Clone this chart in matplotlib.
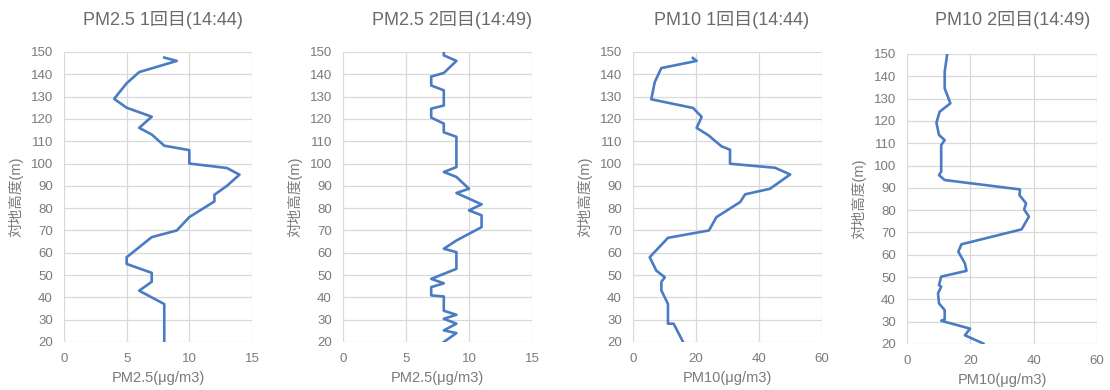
import matplotlib.pyplot as plt

plt.rcParams['font.family'] = ['Liberation Sans', 'Noto Sans CJK JP', 'DejaVu Sans']

# heights (m) and concentrations
h_pm25_1 = [147.5, 146, 141, 136, 129, 125, 121, 116, 113, 108, 106, 100, 98, 95,
            90, 86, 83, 76, 70, 67, 58, 55, 51, 47, 43, 37, 20]
v_pm25_1 = [8, 9, 6, 5, 4, 5, 7, 6, 7, 8, 10, 10, 13, 14,
            13, 12, 12, 10, 9, 7, 5, 5, 7, 7, 6, 8, 8]

h_pm25_2 = [150, 148.5, 146, 140.6, 139, 135, 132.8, 126, 124.6, 120.6, 117.9, 114, 112,
            98.4, 96.2, 94, 88.7, 86.8, 81.7, 79, 76.8, 71.5, 65.5, 61.8, 60.3, 52.8,
            48.3, 46.3, 44.6, 40.9, 40.4, 34, 32.2, 30.4, 28.2, 25.2, 24, 20]
v_pm25_2 = [8, 8, 9, 8, 7, 7, 8, 8, 7, 7, 8, 8, 9,
            9, 8, 9, 10, 9, 11, 10, 11, 11, 9, 8, 9, 9,
            7, 8, 7, 7, 8, 8, 9, 8, 9, 8, 9, 8]

h_pm10_1 = [147.3, 146, 142.8, 136.5, 128.8, 124.9, 120.9, 116, 112.6, 107.7, 106.2, 99.9,
            98.1, 95.1, 88.7, 86.2, 82.7, 76, 70, 66.7, 58, 52, 49, 46.9, 43.1, 37.1,
            28.2, 28.2, 20]
v_pm10_1 = [19, 20.2, 9, 6.9, 5.8, 19.1, 21.8, 20.2, 24, 28.1, 30.8, 30.8,
            45.1, 49.9, 43.5, 35.6, 34, 26.5, 24.1, 11.1, 5.3, 7.4, 10.1, 9, 9, 11.1,
            11.1, 12.9, 15.9]

h_pm10_2 = [150, 142, 134.6, 127.9, 124.1, 119.2, 113.7, 111.4, 109.2, 97.2, 95.7, 93.5,
            89.3, 86.8, 83, 80.3, 77.1, 71.4, 64.7, 61.4, 56.1, 52.8, 50.2, 46.4, 45.7,
            42.7, 38.2, 35.2, 31, 30.4, 26.9, 23.9, 20.2]
v_pm10_2 = [12.7, 11.9, 11.9, 13.7, 10.3, 9.3, 10.1, 11.9, 10.8, 10.8, 10.1, 11.9,
            35.7, 35.5, 37.6, 37, 38.5, 36.2, 17.2, 16.2, 18.3, 18.8, 10.8, 10.1, 10.8,
            9.8, 10.1, 11.9, 11.9, 10.8, 19.9, 18.3, 24.1]

titles = ['PM2.5 1回目(14:44)', 'PM2.5 2回目(14:49)', 'PM10 1回目(14:44)', 'PM10 2回目(14:49)']
xlabels = ['PM2.5(μg/m3)', 'PM2.5(μg/m3)', 'PM10(μg/m3)', 'PM10(μg/m3)']
xmaxes = [15, 15, 60, 60]
xsteps = [5, 5, 20, 20]
ylabel = '対地高度(m)'

series = [(v_pm25_1, h_pm25_1), (v_pm25_2, h_pm25_2),
          (v_pm10_1, h_pm10_1), (v_pm10_2, h_pm10_2)]

W, H = 1110, 390
fig = plt.figure(figsize=(W / 100, H / 100), dpi=100)

# axes boxes in pixels: left, right, top, bottom
boxes = [(64, 252, 52, 342), (343, 532, 52, 342), (633, 822, 52, 342), (907, 1097, 54, 344)]
title_x = [163, 452, 732, 1013]

text_col = '#7a7a7a'
grid_col = '#d9d9d9'
line_col = '#4a7cc4'

for i, (x, y) in enumerate(series):
    l, r, t, b = boxes[i]
    ax = fig.add_axes([l / W, 1 - b / H, (r - l) / W, (b - t) / H])
    ax.plot(x, y, color=line_col, lw=1.9)
    ax.set_xlim(0, xmaxes[i])
    ax.set_ylim(20, 150)
    ax.set_xticks(range(0, xmaxes[i] + 1, xsteps[i]))
    ax.set_yticks(range(20, 151, 10))
    ax.grid(True, color=grid_col, lw=0.9)
    ax.set_axisbelow(True)
    for s in ax.spines.values():
        s.set_visible(False)
    ax.tick_params(length=0, labelsize=9.5, colors=text_col)
    ax.tick_params(axis='x', pad=8)
    ax.tick_params(axis='y', pad=8)
    ax.set_xlabel(xlabels[i], fontsize=10.5, color=text_col, labelpad=4)
    ax.set_ylabel(ylabel, fontsize=10.5, color=text_col, labelpad=5)
    fig.text(title_x[i] / W, 1 - 20 / H, titles[i], fontsize=13, color='#6b6b6b',
             ha='center', va='center')

fig.savefig('out.png', dpi=100, facecolor='white')
